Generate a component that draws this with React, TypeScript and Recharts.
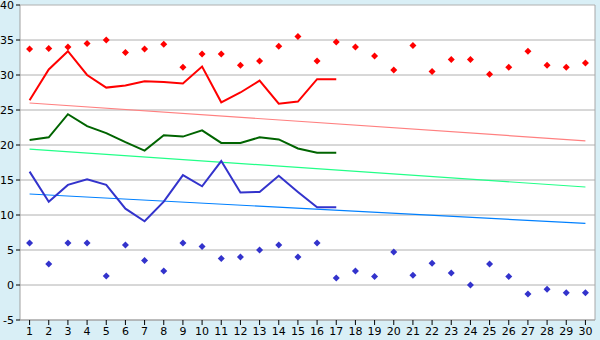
import { ComposedChart, Line, Scatter, XAxis, YAxis, CartesianGrid } from 'recharts'

const days = Array.from({ length: 30 }, (_, i) => String(i + 1))
const yTicks = [-5, 0, 5, 10, 15, 20, 25, 30, 35, 40]

// daily extremes (diamond markers)
const maxTemps = [33.7, 33.8, 34.0, 34.5, 35.0, 33.2, 33.7, 34.4, 31.1, 33.0, 33.0, 31.4, 32.0, 34.1, 35.5, 32.0, 34.7, 34.0, 32.7, 30.7, 34.2, 30.5, 32.2, 32.2, 30.1, 31.1, 33.4, 31.4, 31.1, 31.7]
const minTemps = [6.0, 3.0, 6.0, 6.0, 1.3, 5.7, 3.5, 2.0, 6.0, 5.5, 3.8, 4.0, 5.0, 5.7, 4.0, 6.0, 1.0, 2.0, 1.2, 4.7, 1.4, 3.1, 1.7, 0.0, 3.0, 1.2, -1.3, -0.6, -1.1, -1.1]

// daily averages, first 17 days
const avgMax = [26.4, 30.8, 33.4, 30.0, 28.2, 28.5, 29.1, 29.0, 28.8, 31.2, 26.1, 27.5, 29.2, 25.9, 26.2, 29.4, 29.4]
const avgMean = [20.7, 21.1, 24.4, 22.7, 21.7, 20.4, 19.2, 21.4, 21.2, 22.1, 20.3, 20.3, 21.1, 20.8, 19.5, 18.9, 18.9]
const avgMin = [16.2, 11.9, 14.3, 15.1, 14.3, 10.9, 9.1, 11.9, 15.7, 14.1, 17.7, 13.2, 13.3, 15.6, 13.3, 11.1, 11.1]

// trend lines: value on day 1 and day 30
const trendMax = [26.0, 20.6]
const trendMean = [19.4, 14.0]
const trendMin = [13.0, 8.8]

const endPoint = (pair: number[], i: number) =>
  i === 0 ? pair[0] : i === days.length - 1 ? pair[1] : null

const data = days.map((day, i) => ({
  day,
  max: maxTemps[i],
  min: minTemps[i],
  avgMax: avgMax[i] ?? null,
  avgMean: avgMean[i] ?? null,
  avgMin: avgMin[i] ?? null,
  trendMax: endPoint(trendMax, i),
  trendMean: endPoint(trendMean, i),
  trendMin: endPoint(trendMin, i),
}))

function Diamond(color: string) {
  return (props: any) => {
    const { cx, cy } = props
    if (cx == null || cy == null) return null
    const r = 3.5
    return <path d={`M${cx},${cy - r}L${cx + r},${cy}L${cx},${cy + r}L${cx - r},${cy}Z`} fill={color} />
  }
}

const tickStyle = { fill: '#000', fontSize: 11, fontFamily: 'DejaVu Sans' }

export default function App() {
  return (
    <div style={{ position: 'fixed', left: 0, top: 0, width: 600, height: 340, background: '#d9eff6' }}>
      <ComposedChart width={600} height={340} data={data} margin={{ top: 5, right: 5, bottom: 0, left: 0 }}>
        <CartesianGrid fill="#fff" stroke="#b0b0b0" vertical={false} />
        <CartesianGrid stroke="#a8a8a8" horizontal={false} verticalPoints={[595]} />
        <XAxis
          dataKey="day"
          scale="band"
          interval={0}
          height={20}
          tickSize={5}
          tickMargin={2}
          stroke="#a0a0a0"
          tick={tickStyle}
          tickLine={{ stroke: '#000' }}
        />
        <YAxis
          type="number"
          domain={[-5, 40]}
          ticks={yTicks}
          width={20}
          tickSize={4}
          tickMargin={2}
          stroke="#a0a0a0"
          tick={tickStyle}
          tickLine={{ stroke: '#000' }}
          interval={0}
        />
        <Line dataKey="trendMax" stroke="#ff8080" strokeWidth={1.2} dot={false} connectNulls isAnimationActive={false} />
        <Line dataKey="trendMean" stroke="#22ff88" strokeWidth={1.2} dot={false} connectNulls isAnimationActive={false} />
        <Line dataKey="trendMin" stroke="#0080ff" strokeWidth={1.2} dot={false} connectNulls isAnimationActive={false} />
        <Line dataKey="avgMax" stroke="#ff0000" strokeWidth={2} dot={false} isAnimationActive={false} />
        <Line dataKey="avgMean" stroke="#006400" strokeWidth={2} dot={false} isAnimationActive={false} />
        <Line dataKey="avgMin" stroke="#3333cc" strokeWidth={2} dot={false} isAnimationActive={false} />
        <Scatter dataKey="max" shape={Diamond('#ff0000')} isAnimationActive={false} />
        <Scatter dataKey="min" shape={Diamond('#3333cc')} isAnimationActive={false} />
      </ComposedChart>
    </div>
  )
}
